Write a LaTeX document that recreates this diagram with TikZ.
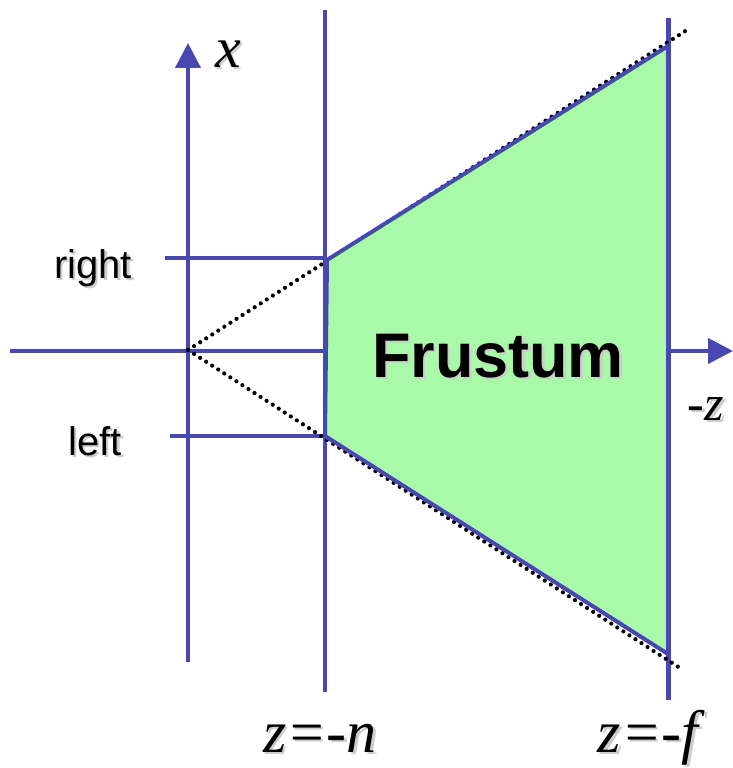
\documentclass[tikz,border=0pt]{standalone}
\usepackage{fontspec}
\setmainfont{Liberation Serif}
\setsansfont{Liberation Sans}
\usetikzlibrary{arrows.meta}
\definecolor{axisblue}{RGB}{72,72,176}
\definecolor{frgreen}{RGB}{168,250,168}
\definecolor{shadowgray}{RGB}{205,205,205}
\newcommand{\shadowed}[1]{\leavevmode\rlap{\kern2.5pt\raisebox{-2.5pt}{\textcolor{shadowgray}{#1}}}#1}
\begin{document}
\begin{tikzpicture}[x=1pt,y=-1pt,
  axis/.style={draw=axisblue,line width=4pt},
  arrowax/.style={axis,-{Triangle[length=25pt,width=25pt]}},
  dotline/.style={line width=4.2pt,dash pattern=on 0pt off 7.2pt,line cap=round},
  frustumbox/.style={fill=frgreen,draw=axisblue,line width=4pt,line join=miter},
  sidelabel/.style={inner sep=0pt,anchor=base,font=\sffamily\fontsize{40}{40}\selectfont},
  mathlabel/.style={inner sep=0pt,anchor=base,font=\itshape\fontsize{60}{60}\selectfont},
  titlelabel/.style={inner sep=0pt,anchor=base,font=\sffamily\bfseries\fontsize{63}{63}\selectfont}]
\useasboundingbox (0,0) rectangle (733,768);
% coordinates
\coordinate (hL) at (10,351);
\coordinate (hR) at (733,351);
\coordinate (vB) at (188,662);
\coordinate (vT) at (188,43);
\coordinate (nT) at (325,10);
\coordinate (nB) at (325,692);
\coordinate (fT) at (668,18);
\coordinate (fB) at (668,700);
\coordinate (rL) at (165,258);
\coordinate (rR) at (325,258);
\coordinate (lL) at (170,436);
\coordinate (lR) at (325,436);
\coordinate (O) at (188,350);
\coordinate (dT) at (690,28);
\coordinate (dB) at (680,668);
\coordinate (A) at (327,260);
\coordinate (B) at (668,46);
\coordinate (C) at (668,654);
\coordinate (D) at (325,436);
% axes and lines
\draw[arrowax] (hL) -- (hR);
\draw[arrowax] (vB) -- (vT);
\draw[axis] (nT) -- (nB);
\draw[axis,line width=5pt] (fT) -- (fB);
\draw[axis] (rL) -- (rR);
\draw[axis] (lL) -- (lR);
% dotted view lines
\draw[dotline] (O) -- (dT);
\draw[dotline] (O) -- (dB);
% frustum
\draw[frustumbox] (A) -- (B) -- (C) -- (D) -- cycle;
% labels
\node[mathlabel,font=\itshape\fontsize{58}{58}\selectfont] (xlab) at (228,67) {\shadowed{x}};
\node[mathlabel,font=\itshape\fontsize{50}{50}\selectfont] (zlab) at (706,420) {\shadowed{-z}};
\node[mathlabel] (nlab) at (320,752) {\shadowed{z=-n}};
\node[mathlabel] (flab) at (648,752) {\shadowed{z=-f}};
\node[sidelabel] (rightlab) at (93,278) {\shadowed{right}};
\node[sidelabel] (leftlab) at (95,455) {\shadowed{left}};
\node[titlelabel] (frlab) at (498,377) {\shadowed{Frustum}};
\end{tikzpicture}
\end{document}
